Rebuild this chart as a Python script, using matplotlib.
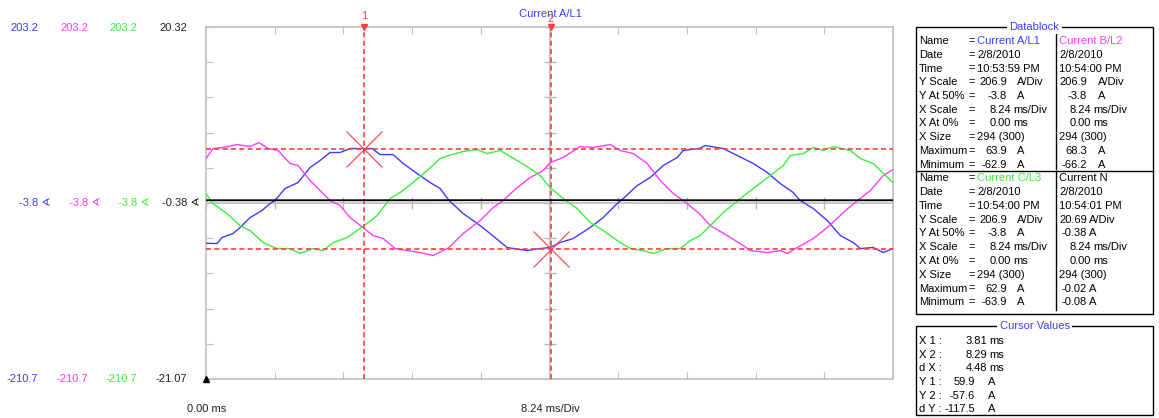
import numpy as np
import matplotlib
matplotlib.use("Agg")
import matplotlib.pyplot as plt
from matplotlib.patches import Rectangle

plt.rcParams['font.family'] = ['Liberation Sans', 'DejaVu Sans']

# ---- data (time in ms, current in A) ----
t_a = [0.0, 1.32, 1.92, 3.24, 4.08, 5.28, 6.72, 7.68, 8.28, 9.48, 11.04, 12.48, 13.68,
       14.88, 16.08, 17.28, 18.84, 19.92, 20.88, 22.44, 23.64, 25.32, 26.88, 28.08,
       29.16, 30.84, 32.88, 34.08, 36.12, 38.52, 40.08, 41.28, 42.48, 44.04, 46.08,
       47.64, 49.32, 50.04, 51.72, 53.28, 54.84, 56.52, 57.24, 59.16, 59.88, 62.04,
       63.72, 65.64, 67.32, 68.88, 70.44, 71.28, 72.84, 74.52, 76.08, 77.64, 78.48,
       80.04, 81.24, 82.4]
i_a = [-51.1, -51.4, -44.4, -39.7, -32.6, -20.9, -12.6, -4.4, -0.9, 13.3, 20.3, 38.0, 46.2,
       55.6, 55.6, 60.3, 60.3, 60.3, 53.2, 53.2, 42.7, 30.9, 20.3, 13.3,
       -0.9, -16.1, -30.3, -39.7, -56.1, -59.7, -57.3, -56.1, -50.3, -45.5, -32.6,
       -20.9, -4.4, 1.5, 16.8, 26.2, 40.3, 49.7, 58.0, 60.3, 63.8, 60.3,
       52.1, 42.7, 32.1, 19.1, 8.5, -0.9, -10.3, -24.4, -42.0, -50.3, -57.3,
       -56.1, -62.0, -57.3]

t_b = [0.0, 0.84, 2.04, 3.72, 5.28, 6.36, 7.44, 8.64, 10.08, 11.04, 12.48, 13.68, 14.88,
       16.08, 17.28, 18.84, 20.04, 21.24, 22.68, 24.12, 25.68, 27.24, 29.16, 30.84,
       32.88, 34.44, 35.64, 37.32, 38.88, 40.44, 41.28, 42.84, 44.88, 46.44, 48.48,
       49.68, 51.24, 52.92, 54.48, 56.04, 57.24, 59.16, 60.48, 62.52, 64.44, 65.28,
       67.32, 68.88, 69.72, 70.92, 72.84, 74.52, 76.44, 78.12, 79.68, 81.24, 82.4]
i_b = [48.5, 60.3, 61.5, 65.0, 62.6, 67.3, 60.3, 58.0, 42.7, 40.3, 22.7, 10.9, -0.9,
       -6.7, -20.9, -32.6, -42.0, -45.5, -57.3, -59.7, -62.0, -65.5, -56.1, -39.7,
       -24.4, -9.1, -0.9, 14.4, 26.2, 34.4, 43.8, 49.7, 62.6, 61.5, 65.0,
       58.0, 54.4, 42.7, 22.7, 7.4, -0.9, -16.1, -30.3, -42.0, -53.8, -59.7,
       -62.0, -59.7, -63.2, -56.1, -45.5, -32.6, -15.0, -0.9, 10.9, 28.5, 35.6]

t_c = [0.0, 0.84, 2.52, 4.08, 5.28, 6.84, 8.52, 10.08, 11.28, 12.84, 14.04, 15.24, 16.92,
       18.12, 19.32, 20.52, 22.08, 23.28, 24.84, 26.52, 28.08, 29.16, 30.84, 32.52,
       33.72, 35.28, 37.32, 38.88, 40.08, 41.28, 42.84, 44.52, 46.08, 47.64, 49.32,
       50.88, 52.44, 53.64, 55.32, 56.88, 58.08, 59.28, 60.48, 62.04, 64.08, 66.12,
       67.68, 69.24, 70.08, 71.64, 72.84, 74.04, 75.24, 77.28, 78.48, 80.04, 81.24, 82.4]
i_c = [7.4, -4.4, -16.1, -30.3, -36.1, -50.3, -57.3, -57.3, -63.2, -57.3, -59.7, -50.3, -44.4,
       -36.1, -27.9, -18.5, 1.5, 8.5, 20.3, 34.4, 48.5, 52.1, 56.8, 59.1,
       54.4, 58.0, 46.2, 36.8, 28.5, 14.4, 1.5, -10.3, -26.7, -36.1, -47.9,
       -57.3, -59.7, -63.2, -57.3, -57.3, -47.9, -42.0, -30.3, -15.0, 1.5, 16.8,
       28.5, 40.3, 52.1, 54.4, 61.5, 58.0, 62.6, 58.0, 48.5, 42.7, 30.9, 20.3]

t_n = [0.0, 20.6, 41.2, 61.8, 82.4]
i_n = [-0.05, -0.05, -0.04, -0.05, -0.05]

# scales shown on the left
amp_top, amp_mid, amp_bot = 203.2, -3.8, -210.7
n_top, n_mid, n_bot = 20.32, -0.38, -21.07
t_end = 82.4

# cursors
cur_t = [18.95, 41.38]
cur_y = [59.9, -57.6]

blk1_labels = ["Name", "Date", "Time", "Y Scale", "Y At 50%", "X Scale", "X At 0%",
               "X Size", "Maximum", "Minimum"]
blk_a = [("Current A/L1", None), ("2/8/2010", None), ("10:53:59 PM", None),
         ("206.9", "A/Div"), ("-3.8", "A"), ("8.24", "ms/Div"), ("0.00", "ms"),
         ("294 (300)", None), ("63.9", "A"), ("-62.9", "A")]
blk_b = [("Current B/L2", None), ("2/8/2010", None), ("10:54:00 PM", None),
         ("206.9", "A/Div"), ("-3.8", "A"), ("8.24", "ms/Div"), ("0.00", "ms"),
         ("294 (300)", None), ("68.3", "A"), ("-66.2", "A")]
blk_c = [("Current C/L3", None), ("2/8/2010", None), ("10:54:00 PM", None),
         ("206.9", "A/Div"), ("-3.8", "A"), ("8.24", "ms/Div"), ("0.00", "ms"),
         ("294 (300)", None), ("62.9", "A"), ("-63.9", "A")]
blk_n = [("Current N", None), ("2/8/2010", None), ("10:54:01 PM", None),
         ("20.69", "A/Div"), ("-0.38", "A"), ("8.24", "ms/Div"), ("0.00", "ms"),
         ("294 (300)", None), ("-0.02", "A"), ("-0.08", "A")]

cursor_labels = ["X 1 :", "X 2 :", "d X :", "Y 1 :", "Y 2 :", "d Y :"]
cursor_vals = [("3.81", "ms"), ("8.29", "ms"), ("4.48", "ms"),
               ("59.9", "A"), ("-57.6", "A"), ("-117.5", "A")]

BLUE = '#3c3cff'
MAG = '#ff3cff'
GRN = '#3cf03c'
RED = '#ff3c3c'
FRAME = '#c0c0c0'

W, H = 1159, 418
fig = plt.figure(figsize=(W / 100, H / 100), dpi=100)
fig.patch.set_facecolor('white')


def px(x, y):
    return x / W, 1 - y / H


def ftext(x, y, s, **kw):
    kw.setdefault('fontsize', 8)
    kw.setdefault('va', 'center')
    fig.text(*px(x, y), s, **kw)


L, R, T, B = 206, 893, 27, 379
ax = fig.add_axes([L / W, 1 - B / H, (R - L) / W, (B - T) / H])
ax.set_xlim(0, t_end)
ax.set_ylim(amp_bot, amp_top)
for s in ax.spines.values():
    s.set_color(FRAME)
    s.set_linewidth(1.2)
xt = np.linspace(0, t_end, 11)
yt = np.linspace(amp_bot, amp_top, 11)
ax.set_xticks(xt)
ax.set_yticks(yt)
ax.tick_params(direction='in', length=5, color=FRAME, top=True, right=True,
               labelbottom=False, labelleft=False)

# centre crosshair with division marks
xc = t_end / 2
yc = (amp_top + amp_bot) / 2
ax.axhline(yc, color='#c8c8c8', lw=1.5, zorder=1)
ax.axvline(xc, color='#c8c8c8', lw=1.5, zorder=1)
ax.plot(xt, [yc] * len(xt), ls='none', marker='|', ms=8, color='#b8b8b8', zorder=1)
ax.plot([xc] * len(yt), yt, ls='none', marker='_', ms=8, color='#b8b8b8', zorder=1)

# traces
ax.plot(t_a, i_a, color=BLUE, lw=1.0, zorder=3)
ax.plot(t_b, i_b, color=MAG, lw=1.0, zorder=3)
ax.plot(t_c, i_c, color=GRN, lw=1.0, zorder=3)

axn = ax.twinx()
axn.set_ylim(n_bot, n_top)
axn.axis('off')
axn.plot(t_n, i_n, color='black', lw=1.3, zorder=4)

# cursors
for tc in cur_t:
    ax.axvline(tc, color=RED, lw=1.2, ls=(0, (3, 2)), zorder=5)
for yv in cur_y:
    ax.axhline(yv, color=RED, lw=1.2, ls=(0, (3, 2)), zorder=5)
ax.plot(cur_t, cur_y, ls='none', marker='x', ms=26, mew=0.8, color=RED, zorder=6)
for k, tc in enumerate(cur_t):
    ax.annotate(str(k + 1), (tc, amp_top), xytext=(0, 4 - 1.5 * k), textcoords='offset points',
                ha='center', va='bottom', color=RED, fontsize=8, annotation_clip=False)
    ax.plot([tc], [amp_top], marker='v', ms=4, color=RED, clip_on=False, zorder=7)

# bottom-left marker
ax.plot([0], [amp_bot], marker='^', ms=4, color='black', clip_on=False,
        transform=ax.transData, zorder=7)

ftext(550, 14, "Current A/L1", color=BLUE, ha='center')
ftext(207, 409, "0.00 ms", ha='center', color='#202020')
ftext(550, 409, "8.24 ms/Div", ha='center', color='#202020')

# scale labels on the left
cols = [(38, BLUE, amp_top, amp_mid, amp_bot, "{:.1f}"),
        (88, MAG, amp_top, amp_mid, amp_bot, "{:.1f}"),
        (137, GRN, amp_top, amp_mid, amp_bot, "{:.1f}"),
        (187, '#202020', n_top, n_mid, n_bot, "{:.2f}")]
for xr, c, top, mid, bot, fmt in cols:
    ftext(xr, 28, fmt.format(top), color=c, ha='right')
    ftext(xr, 379, fmt.format(bot), color=c, ha='right')
    ftext(xr + 13, 203, fmt.format(mid) + " \u2222", color=c, ha='right')

# datablock panel
BX0, BX1, DIV = 916, 1153, 1056


def box(y0, y1, title):
    x0, yb = px(BX0, y1)
    x1, yt_ = px(BX1, y0)
    fig.add_artist(Rectangle((x0, yb), x1 - x0, yt_ - yb, transform=fig.transFigure,
                             fill=False, ec='black', lw=1.0))
    ftext((BX0 + BX1) / 2, y0, title, color=BLUE, ha='center',
          bbox=dict(fc='white', ec='none', pad=1.5))


def vline(x, y0, y1):
    fig.add_artist(plt.Line2D([x / W, x / W], [1 - y0 / H, 1 - y1 / H],
                              transform=fig.transFigure, color='black', lw=1.0))


def hline(y, x0, x1):
    fig.add_artist(plt.Line2D([x0 / W, x1 / W], [1 - y / H, 1 - y / H],
                              transform=fig.transFigure, color='black', lw=1.0))


box(27, 314, "Datablock")
vline(DIV, 33, 169)
vline(DIV, 172, 310)
hline(171, BX0, BX1)


def draw_block(y0, vals_left, vals_right, name_col_left, name_col_right, n_style=False):
    for r, lab in enumerate(blk1_labels):
        y = y0 + r * 13.75
        ftext(919, y, lab)
        ftext(968, y, "=")
        v, u = vals_left[r]
        if u is None:
            ftext(977, y, v, color=name_col_left if r == 0 else 'black')
        elif u.startswith('ms'):
            ftext(1011, y, v, ha='right')
            ftext(1013, y, u)
        else:
            ftext(1007, y, v, ha='right')
            ftext(1017, y, u)
        v, u = vals_right[r]
        if u is None:
            ftext(1059, y, v, color=name_col_right if r == 0 else 'black')
        elif u.startswith('ms'):
            ftext(1091, y, v, ha='right')
            ftext(1093, y, u)
        elif n_style:
            ftext(1087, y, v, ha='right')
            ftext(1089, y, u)
        else:
            ftext(1087, y, v, ha='right')
            ftext(1098, y, u)


draw_block(41, blk_a, blk_b, BLUE, MAG)
draw_block(178.5, blk_c, blk_n, GRN, 'black', n_style=True)

# cursor values panel
box(326, 415, "Cursor Values")
for r, lab in enumerate(cursor_labels):
    y = 341 + r * 13.7
    ftext(919, y, lab)
    v, u = cursor_vals[r]
    if u == 'ms':
        ftext(987, y, v, ha='right')
        ftext(989, y, u)
    else:
        ftext(975, y, v, ha='right')
        ftext(988, y, u)

plt.savefig('out.png', dpi=100)
